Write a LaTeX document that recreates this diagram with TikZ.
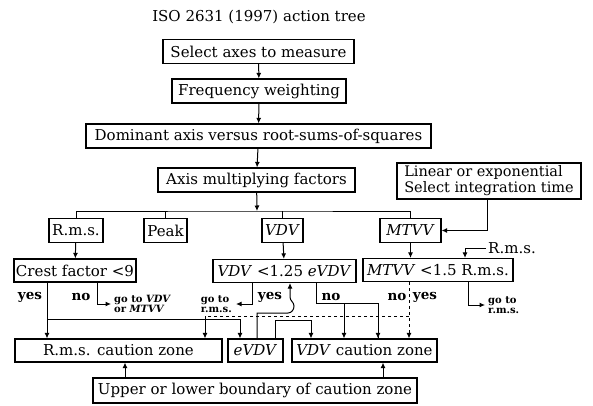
\documentclass[tikz,border=0pt]{standalone}
\usepackage{fontspec}
\setmainfont{DejaVu Serif}
\usetikzlibrary{arrows.meta}
\begin{document}
\begin{tikzpicture}[x=1pt, y=-1pt,
    box/.style={draw, line width=1.2pt, inner sep=0pt, minimum height=24pt, font=\fontsize{15}{17}\selectfont},
    lbl/.style={inner sep=0pt, font=\fontsize{13.5}{15}\selectfont\bfseries},
    goto/.style={inner sep=0pt, align=left, font=\fontsize{10}{10.5}\selectfont\bfseries},
    ln/.style={line width=1pt},
    arr/.style={line width=1pt, -{Latex[length=5.5pt,width=5pt]}}]
  \useasboundingbox (0,0) rectangle (593,406);
  \node (title) at (259,17) [font=\fontsize{15}{17}\selectfont] {ISO 2631 (1997) action tree};
  \node (sel) at (258.5,51.5) [box, minimum width=191pt] {Select axes to measure};
  \node (freq) at (259,91) [box, minimum width=174pt] {Frequency weighting};
  \node (dom) at (258.5,136) [box, minimum width=345pt] {Dominant axis versus root-sums-of-squares};
  \node (axis) at (256.5,180) [box, minimum width=197pt] {Axis multiplying factors};
  \node (lin) at (489,181) [box, minimum width=184pt, minimum height=36pt, align=left, font=\fontsize{14.5}{16}\selectfont] {Linear or exponential\\Select integration time};
  \node (rms) at (76,230.5) [box, minimum width=54pt] {R.m.s.};
  \node (peak) at (165.5,230.5) [box, minimum width=43pt] {Peak};
  \node (vdv) at (282.5,230.5) [box, minimum width=41pt] {\textit{VDV}};
  \node (mtvv) at (410.5,230.5) [box, minimum width=61pt] {\textit{MTVV}};
  \node (crest) at (75,270.5) [box, minimum width=122pt, minimum height=23pt] {Crest factor <9};
  \node (vdvcmp) at (284.5,271) [box, minimum width=143pt, minimum height=23pt] {\textit{VDV} <1.25 \textit{eVDV}};
  \node (mtvvcmp) at (438,270) [box, minimum width=150pt, minimum height=23pt] {\textit{MTVV} <1.5 R.m.s.};
  \node (rmsin) at (512,248) [inner sep=0pt, font=\fontsize{15}{17}\selectfont] {R.m.s.};
  \node (rmszone) at (118.5,350.5) [box, minimum width=207pt, minimum height=23pt] {R.m.s. caution zone};
  \node (evdv) at (255.5,350.5) [box, minimum width=55pt, minimum height=23pt] {\textit{eVDV}};
  \node (vdvzone) at (364.5,350.5) [box, minimum width=145pt, minimum height=23pt] {\textit{VDV} caution zone};
  \node (bound) at (255,390.5) [box, minimum width=324pt, minimum height=25pt] {Upper or lower boundary of caution zone};
  \node (yes1) at (30,297) [lbl] {yes};
  \node (no1) at (81,297) [lbl] {no};
  \node (goto1) [goto, anchor=west] at (114,304) {go to \textit{VDV}\\or \textit{MTVV}};
  \node (goto2) [goto, anchor=east] at (232,304) {go to\\r.m.s.};
  \node (yes2) at (270,297) [lbl] {yes};
  \node (no2) at (331,297) [lbl] {no};
  \node (no3) at (397,297) [lbl] {no};
  \node (yes3) at (425,297) [lbl] {yes};
  \node (goto3) [goto, anchor=west] at (488,305) {go to\\r.m.s.};
  \coordinate (br) at (257,211);
  \coordinate (yesj) at (47,319);
  \coordinate (noj) at (316,303);
  \coordinate (dashj) at (409,316);
  \draw[arr] (sel) -- (freq);
  \draw[arr] (freq) -- (dom);
  \draw[arr] (dom) -- (axis);
  \draw[arr] (axis) -- (br);
  \draw[ln] (rms.north) |- (br) -| (mtvv.north);
  \draw[ln] (peak.north) -- (peak.north |- br);
  \draw[ln] (vdv.north) -- (vdv.north |- br);
  \draw[arr] ([xshift=-2pt]lin.south) |- (mtvv.east);
  \draw[arr] (rms) -- (crest);
  \draw[arr] (vdv) -- (vdvcmp);
  \draw[arr] (mtvv) -- ([xshift=-27.5pt]mtvvcmp.north);
  \draw[arr] ([xshift=-2pt]rmsin.west) -| ([xshift=27pt]mtvvcmp.north);
  \draw[arr] ([xshift=-28pt]crest.south) -- ([xshift=-28pt]crest.south |- rmszone.north);
  \draw[arr] ([xshift=22pt]crest.south) |- ([xshift=-3pt]goto1.west);
  \draw[arr] (yesj) -| ([xshift=-15.5pt]evdv.north);
  \draw[arr] ([xshift=-32.5pt]vdvcmp.south) |- ([xshift=4pt]goto2.east);
  \draw[arr] ([xshift=1.5pt]evdv.north) |- (288,313) to[out=0,in=-90] (294,306) to[out=90,in=-90] (290,297) -- ([xshift=5.5pt]vdvcmp.south);
  \draw[arr] ([xshift=19.5pt]evdv.north) -- ++(0,-18) -| ([xshift=-53.5pt]vdvzone.north);
  \draw[ln] ([xshift=31.5pt]vdvcmp.south) |- (noj) -| ([xshift=13.5pt]vdvzone.north);
  \draw[arr] ([xshift=13.5pt]vdvzone.north |- noj) -- ([xshift=13.5pt]vdvzone.north);
  \draw[arr] ([xshift=-20.5pt]vdvzone.north |- noj) -- ([xshift=-20.5pt]vdvzone.north);
  \draw[arr, dashed] ([xshift=-29pt]mtvvcmp.south) -- ([xshift=44.5pt]vdvzone.north);
  \draw[ln, dashed] (dashj) -- (205,316);
  \draw[arr] (205,316) -- ([xshift=86.5pt]rmszone.north);
  \draw[arr] ([xshift=30pt]mtvvcmp.south) |- ([xshift=-3pt]goto3.west);
  \draw[arr] ([xshift=-130pt]bound.north) -- ([xshift=-130pt]bound.north |- rmszone.south);
  \draw[arr] ([xshift=128pt]bound.north) -- ([xshift=128pt]bound.north |- vdvzone.south);
\end{tikzpicture}
\end{document}
